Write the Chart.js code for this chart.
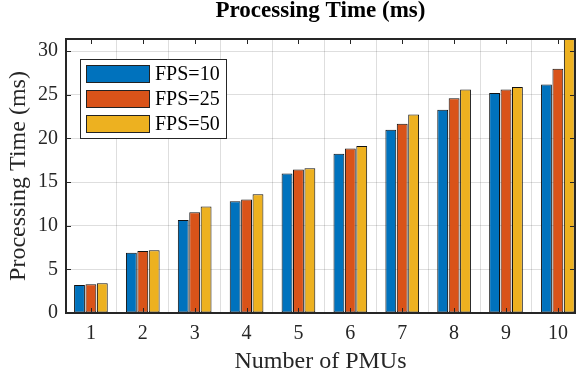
<!DOCTYPE html>
<html>
<head>
<meta charset="utf-8">
<script src="https://cdn.jsdelivr.net/npm/chart.js@4/dist/chart.umd.min.js"></script>
<style>
  html, body { margin: 0; padding: 0; background: #fff; }
  #wrap { width: 584px; height: 374px; }
</style>
</head>
<body>
<div id="wrap"><canvas id="procChart" width="584" height="374"></canvas></div>
<script>
// data
const pmus = [1, 2, 3, 4, 5, 6, 7, 8, 9, 10];
const fps10 = [3.2, 6.9, 10.65, 12.8, 16.0, 18.25, 21.0, 23.3, 25.2, 26.2];
const fps25 = [3.3, 7.1, 11.55, 13.0, 16.45, 18.85, 21.7, 24.6, 25.6, 28.0];
const fps50 = [3.4, 7.2, 12.2, 13.6, 16.6, 19.15, 22.75, 25.6, 25.9, 33.0];
const seriesLabels = ['FPS=10', 'FPS=25', 'FPS=50'];
const yTicks = [0, 5, 10, 15, 20, 25, 30];
const chartTitle = 'Processing Time (ms)';

const colors = ['#0072BD', '#D95319', '#EDB120'];
const serif = "'Liberation Serif', 'Times New Roman', serif";
const textColor = '#262626';

function toPoints(vals) {
    return pmus.map(function(p, i) { return { x: p, y: vals[i] }; });
}

// title over the axes, box, inward ticks, legend in the upper left
const matlabAxes = {
    id: 'matlabAxes',
    afterDraw: function(chart) {
        const ctx = chart.ctx;
        const a = chart.chartArea;
        const xs = chart.scales.x;
        const ys = chart.scales.y;
        ctx.save();

        ctx.fillStyle = '#000';
        ctx.font = 'bold 23px ' + serif;
        ctx.textAlign = 'center';
        ctx.textBaseline = 'alphabetic';
        ctx.fillText(chartTitle, (a.left + a.right) / 2, 17);

        ctx.strokeStyle = textColor;
        ctx.lineWidth = 1;
        const tl = 5;
        ctx.beginPath();
        pmus.forEach(function(p) {
            const px = Math.round(xs.getPixelForValue(p)) + 0.5;
            ctx.moveTo(px, a.bottom); ctx.lineTo(px, a.bottom - tl);
            ctx.moveTo(px, a.top); ctx.lineTo(px, a.top + tl);
        });
        yTicks.forEach(function(v) {
            const py = Math.round(ys.getPixelForValue(v)) + 0.5;
            ctx.moveTo(a.left, py); ctx.lineTo(a.left + tl, py);
            ctx.moveTo(a.right, py); ctx.lineTo(a.right - tl, py);
        });
        ctx.stroke();
        ctx.lineWidth = 2;
        ctx.strokeRect(a.left, a.top, a.right - a.left, a.bottom - a.top);

        // legend
        const lx = 80, ly = 59, lw = 146, lh = 79;
        ctx.fillStyle = '#fff';
        ctx.fillRect(lx, ly, lw, lh);
        ctx.lineWidth = 1;
        ctx.strokeStyle = textColor;
        ctx.strokeRect(lx + 0.5, ly + 0.5, lw, lh);
        ctx.font = '20px ' + serif;
        ctx.textAlign = 'left';
        ctx.textBaseline = 'middle';
        chart.data.datasets.forEach(function(ds, i) {
            const cy = ly + 15 + i * 25;
            ctx.fillStyle = ds.backgroundColor;
            ctx.fillRect(86, cy - 9, 64, 18);
            ctx.strokeStyle = '#222';
            ctx.strokeRect(86.5, cy - 8.5, 63, 17);
            ctx.fillStyle = '#000';
            ctx.fillText(ds.label, 155, cy + 1);
        });
        ctx.restore();
    }
};

new Chart(document.getElementById('procChart'), {
    type: 'bar',
    data: {
        datasets: [
            { label: seriesLabels[0], data: toPoints(fps10), backgroundColor: colors[0] },
            { label: seriesLabels[1], data: toPoints(fps25), backgroundColor: colors[1] },
            { label: seriesLabels[2], data: toPoints(fps50), backgroundColor: colors[2] }
        ]
    },
    options: {
        responsive: false,
        animation: false,
        layout: { padding: { left: 0, right: 9, top: 39, bottom: 0 } },
        datasets: {
            bar: {
                borderColor: '#111',
                borderWidth: 1,
                borderSkipped: false,
                categoryPercentage: 0.66,
                barPercentage: 0.95
            }
        },
        plugins: {
            legend: { display: false },
            tooltip: { enabled: false },
            title: { display: false }
        },
        scales: {
            x: {
                type: 'linear',
                min: 0.52,
                max: 10.33,
                offset: false,
                afterBuildTicks: function(scale) {
                    scale.ticks = pmus.map(function(p) { return { value: p }; });
                },
                afterFit: function(scale) { scale.height = 61; },
                grid: { color: 'rgba(0,0,0,0.13)', drawTicks: false },
                border: { display: false },
                ticks: {
                    color: textColor,
                    padding: 9,
                    maxRotation: 0,
                    autoSkip: false,
                    font: { family: serif, size: 20 }
                },
                title: {
                    display: true,
                    text: 'Number of PMUs',
                    color: textColor,
                    padding: { top: 0, bottom: 0 },
                    font: { family: serif, size: 24, lineHeight: 1 }
                }
            },
            y: {
                min: 0,
                max: 31.4,
                afterBuildTicks: function(scale) {
                    scale.ticks = yTicks.map(function(v) { return { value: v }; });
                },
                afterFit: function(scale) { scale.width = 66; },
                grid: { color: 'rgba(0,0,0,0.13)', drawTicks: false },
                border: { display: false },
                ticks: {
                    color: textColor,
                    padding: 8,
                    font: { family: serif, size: 20 }
                },
                title: {
                    display: true,
                    text: 'Processing Time (ms)',
                    color: textColor,
                    padding: { top: 7, bottom: 0 },
                    font: { family: serif, size: 24, lineHeight: 1 }
                }
            }
        }
    },
    plugins: [matlabAxes]
});
</script>
</body>
</html>
